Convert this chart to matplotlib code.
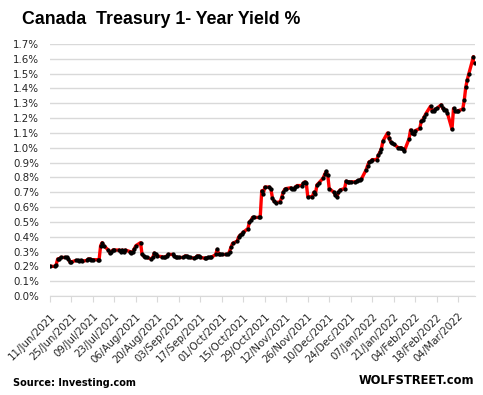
import matplotlib
matplotlib.use('Agg')
import matplotlib.pyplot as plt
from matplotlib.ticker import MultipleLocator, FuncFormatter
import pandas as pd

# Canada 1-year yield, daily (business days)
start = '2021-06-11'
end = '2022-03-15'
last_tick = '2022-03-04'

yields = [
    0.20,
    0.20, 0.21, 0.25, 0.25, 0.26,
    0.26, 0.26, 0.25, 0.23, 0.23,
    0.24, 0.24, 0.235, 0.24, 0.235,
    0.24, 0.25, 0.25, 0.245, 0.245,
    0.245, 0.245, 0.34, 0.36, 0.34,
    0.31, 0.29, 0.30, 0.31, 0.31,
    0.31, 0.30, 0.31, 0.30, 0.31,
    0.30, 0.29, 0.30, 0.32, 0.34,
    0.36, 0.28, 0.27, 0.26, 0.26,
    0.25, 0.26, 0.29, 0.28, 0.27,
    0.265, 0.26, 0.26, 0.27, 0.28,
    0.28, 0.27, 0.26, 0.26, 0.26,
    0.26, 0.27, 0.27, 0.265, 0.26,
    0.255, 0.26, 0.27, 0.27, 0.26,
    0.255, 0.255, 0.26, 0.26, 0.26,
    0.28, 0.315, 0.28, 0.28, 0.28,
    0.28, 0.28, 0.30, 0.33, 0.355,
    0.37, 0.40, 0.41, 0.42, 0.43,
    0.455, 0.50, 0.51, 0.53, 0.53,
    0.53, 0.53, 0.71, 0.69, 0.735,
    0.735, 0.72, 0.66, 0.64, 0.63,
    0.635, 0.665, 0.70, 0.72, 0.725,
    0.73, 0.72, 0.72, 0.735, 0.745,
    0.745, 0.76, 0.77, 0.765, 0.67,
    0.67, 0.70, 0.69, 0.75, 0.76,
    0.795, 0.82, 0.84, 0.815, 0.725,
    0.70, 0.68, 0.67, 0.70, 0.715,
    0.725, 0.775, 0.77, 0.77, 0.77,
    0.77, 0.775, 0.78, 0.78, 0.79,
    0.85, 0.88, 0.905, 0.91, 0.92,
    0.92, 0.95, 0.97, 0.995, 1.045,
    1.10, 1.065, 1.04, 1.03, 1.025,
    1.00, 1.00, 1.00, 0.99, 0.98,
    1.06, 1.12, 1.10, 1.09, 1.115,
    1.13, 1.18, 1.19, 1.21, 1.23,
    1.28, 1.25, 1.25, 1.26, 1.265,
    1.29, 1.265, 1.255, 1.255, 1.235,
    1.125, 1.265, 1.245, 1.245, 1.25,
    1.26, 1.32, 1.41, 1.46, 1.50,
    1.615, 1.57,
]

dates = pd.bdate_range(start, end)
tick_dates = pd.date_range(start, last_tick, freq='14D')
tick_labels = [d.strftime('%d/%b/%Y') for d in tick_dates]

txt = '#262626'

fig = plt.figure(figsize=(4.83, 3.95), dpi=100)
ax = fig.add_axes([50 / 483, 1 - 296 / 395, 425 / 483, 252 / 395])

ax.plot(dates, yields, color='red', lw=2.4, marker='o', ms=2.1,
        mfc='black', mec='black', zorder=3)

ax.set_ylim(0, 1.7)
ax.yaxis.set_major_locator(MultipleLocator(0.1))
ax.yaxis.set_major_formatter(FuncFormatter(lambda v, p: f'{v:.1f}%'))
ax.grid(axis='y', color='#d9d9d9', lw=1)
ax.set_axisbelow(True)
for s in ['top', 'right', 'left']:
    ax.spines[s].set_visible(False)
ax.spines['bottom'].set_color('#d9d9d9')

ax.set_xlim(dates[0], dates[-1])
ax.set_xticks(tick_dates)
ax.set_xticklabels(tick_labels, rotation=45, ha='right', rotation_mode='anchor')
ax.tick_params(axis='x', length=4, color='#d9d9d9', labelsize=7.4,
               labelcolor=txt, pad=7)
ax.tick_params(axis='y', length=0, labelsize=7.4, labelcolor=txt, pad=8)

fig.text(22 / 483, 1 - 19 / 395, 'Canada  Treasury 1- Year Yield %',
         family='Liberation Sans', weight='bold',
         fontsize=12.8, va='center', ha='left', color='black')
fig.text(13 / 483, 1 - 383 / 395, 'Source: Investing.com', weight='bold',
         fontsize=7, va='center', ha='left', color='black')
fig.text(474 / 483, 1 - 380 / 395, 'WOLFSTREET.com', weight='bold',
         fontsize=8.3, va='center', ha='right', color='black')

fig.savefig('out.png', dpi=100)
